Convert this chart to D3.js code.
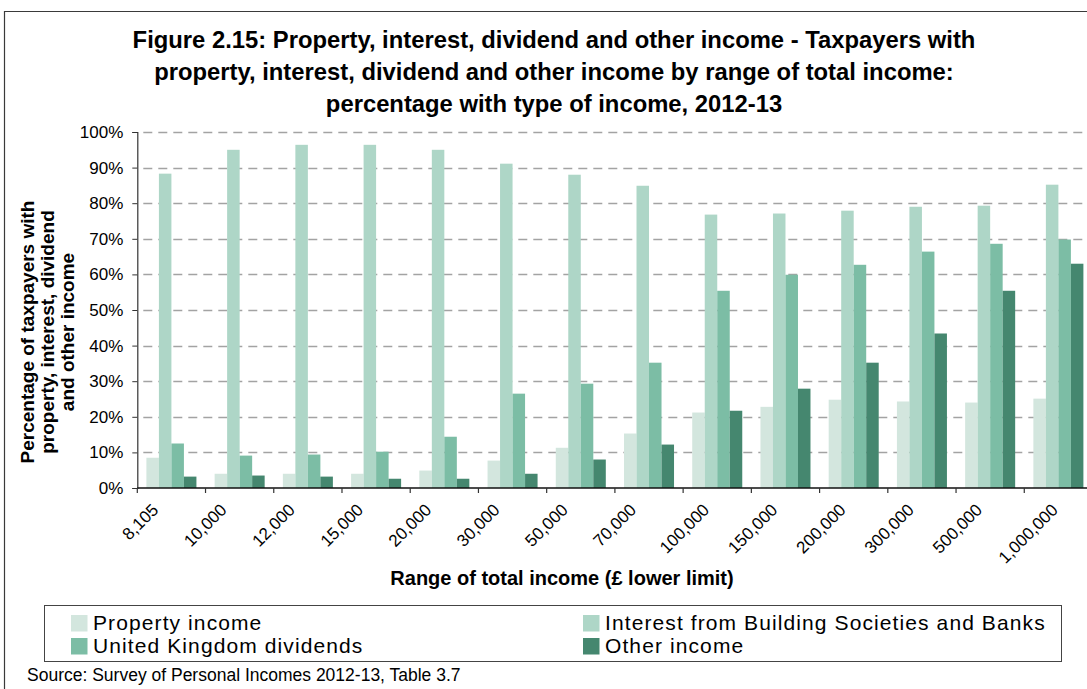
<!DOCTYPE html>
<html>
<head>
<meta charset="utf-8">
<script src="https://cdn.jsdelivr.net/npm/d3@7/dist/d3.min.js"></script>
<style>
  html, body { margin: 0; padding: 0; background: #fff; }
  svg { display: block; }
  text { font-family: "Liberation Sans", Arial, sans-serif; fill: #000; }
</style>
</head>
<body>
<svg id="chart" width="1087" height="689"></svg>
<script>
// Income bands (lower limit, £)
const categories = ["8,105", "10,000", "12,000", "15,000", "20,000", "30,000", "50,000",
  "70,000", "100,000", "150,000", "200,000", "300,000", "500,000", "1,000,000"];

// Share of taxpayers in each band with each type of income (%)
const propertyIncome = [8.5, 4.0, 4.0, 4.0, 4.9, 7.7, 11.3, 15.3, 21.2, 22.8, 24.8, 24.3, 24.0, 25.1];
const interestIncome = [88.3, 95.0, 96.4, 96.4, 95.0, 91.1, 88.0, 84.9, 76.8, 77.1, 77.9, 79.0, 79.3, 85.2];
const ukDividends    = [12.5, 9.1, 9.4, 10.2, 14.4, 26.5, 29.3, 35.2, 55.4, 59.9, 62.7, 66.4, 68.6, 69.8];
const otherIncome    = [3.2, 3.5, 3.2, 2.6, 2.6, 4.0, 8.0, 12.2, 21.7, 27.9, 35.2, 43.4, 55.4, 63.0];

const seriesNames = ["Property income", "Interest from Building Societies and Banks",
  "United Kingdom dividends", "Other income"];
const seriesValues = [propertyIncome, interestIncome, ukDividends, otherIncome];
const seriesColors = ["#d3e6de", "#aed6c7", "#7cbda5", "#45876f"];

const yTicks = [0, 10, 20, 30, 40, 50, 60, 70, 80, 90, 100];

const titleLines = [
  "Figure 2.15: Property, interest, dividend and other income - Taxpayers with",
  "property, interest, dividend and other income by range of total income:",
  "percentage with type of income, 2012-13"
];
const yTitleLines = ["Percentage of taxpayers with", "property, interest, dividend", "and other income"];
const xTitle = "Range of total income (£ lower limit)";
const sourceNote = "Source: Survey of Personal Incomes 2012-13, Table 3.7";

const svg = d3.select("#chart");

// Plot frame
const plot = { left: 137.3, right: 1092.5, top: 132, bottom: 488 };

const x = d3.scaleBand().domain(categories).range([plot.left, plot.right]).padding(0);
const xs = d3.scaleBand().domain(d3.range(seriesNames.length))
  .range([0, x.bandwidth()]).paddingInner(0).paddingOuter(0.728);
const y = d3.scaleLinear().domain([0, 100]).range([plot.bottom, plot.top]);

// Outer chart border (left and top edges)
svg.append("path")
  .attr("d", `M4.5,689 V11.5 H1087`)
  .attr("fill", "none").attr("stroke", "#3a3a3a").attr("stroke-width", 1.2);

// Title
svg.append("g").selectAll("text").data(titleLines).join("text")
  .attr("x", 554).attr("y", (d, i) => 48 + i * 32)
  .attr("text-anchor", "middle")
  .style("font-size", "23.8px").style("font-weight", "bold")
  .text(d => d);

// Dashed gridlines
svg.append("g").selectAll("line").data(yTicks.filter(t => t > 0)).join("line")
  .attr("x1", plot.left + 6).attr("x2", 1087)
  .attr("y1", d => Math.round(y(d)) + 0.5).attr("y2", d => Math.round(y(d)) + 0.5)
  .attr("stroke", "#a3a3a3").attr("stroke-width", 1.3)
  .attr("stroke-dasharray", "9,6");

// Bars
const groups = svg.append("g").selectAll("g").data(categories).join("g")
  .attr("transform", d => `translate(${x(d)},0)`);
groups.selectAll("rect")
  .data((d, ci) => seriesValues.map((vals, si) => ({ si, v: vals[ci] })))
  .join("rect")
  .attr("x", d => xs(d.si))
  .attr("width", xs.bandwidth())
  .attr("y", d => y(d.v))
  .attr("height", d => y(0) - y(d.v))
  .attr("fill", d => seriesColors[d.si]);

// Y axis
const yAxis = d3.axisLeft(y).tickValues(yTicks).tickSize(5).tickPadding(9)
  .tickFormat(d => d + "%");
const yg = svg.append("g").attr("transform", `translate(${plot.left},0)`).call(yAxis);
yg.select(".domain").attr("stroke", "#333").attr("stroke-width", 1.2);
yg.selectAll(".tick line").attr("stroke", "#333");
yg.selectAll(".tick text").style("font-size", "17px")
  .style("font-family", '"Liberation Sans", Arial, sans-serif').attr("fill", "#000");

// X axis line with ticks at category boundaries
svg.append("line")
  .attr("x1", plot.left).attr("x2", 1087)
  .attr("y1", plot.bottom).attr("y2", plot.bottom)
  .attr("stroke", "#111").attr("stroke-width", 1.5);
svg.append("g").selectAll("line").data(categories).join("line")
  .attr("x1", d => x(d)).attr("x2", d => x(d))
  .attr("y1", plot.bottom).attr("y2", plot.bottom + 5)
  .attr("stroke", "#333").attr("stroke-width", 1.2);

// Rotated category labels; longer labels sit a little further right
svg.append("g").selectAll("text").data(categories).join("text")
  .attr("text-anchor", "end")
  .style("font-size", "17px")
  .text(d => d)
  .each(function (d) {
    const w = this.getComputedTextLength() * Math.SQRT1_2;
    const shift = -12 + 0.75 * Math.max(0, w - 36.7);
    d3.select(this).attr("transform",
      `translate(${x(d) + x.bandwidth() / 2 + shift},${511}) rotate(-45)`);
  });

// Axis titles
svg.append("text")
  .attr("x", 562).attr("y", 585)
  .attr("text-anchor", "middle")
  .style("font-size", "20px").style("font-weight", "bold")
  .text(xTitle);

svg.append("text")
  .attr("transform", "translate(34,332) rotate(-90)")
  .attr("text-anchor", "middle")
  .style("font-size", "19px").style("font-weight", "bold")
  .selectAll("tspan").data(yTitleLines).join("tspan")
  .attr("x", 0).attr("dy", (d, i) => i === 0 ? 0 : 20)
  .text(d => d);

// Legend
const legend = svg.append("g");
legend.append("rect")
  .attr("x", 44.5).attr("y", 605.5).attr("width", 1017).attr("height", 56)
  .attr("fill", "#fff").attr("stroke", "#444").attr("stroke-width", 1);
const legendPos = [
  { x: 71, y: 615 }, { x: 583, y: 615 },
  { x: 71, y: 638 }, { x: 583, y: 638 }
];
const items = legend.selectAll("g.item").data(seriesNames).join("g")
  .attr("class", "item")
  .attr("transform", (d, i) => `translate(${legendPos[i].x},${legendPos[i].y})`);
items.append("rect")
  .attr("width", 16.5).attr("height", 16.5)
  .attr("fill", (d, i) => seriesColors[i]);
items.append("text")
  .attr("x", 22).attr("y", 15)
  .style("font-size", "21px").style("letter-spacing", "1.1px")
  .text(d => d);

// Source note
svg.append("text")
  .attr("x", 27).attr("y", 681)
  .style("font-size", "17.5px")
  .text(sourceNote);
</script>
</body>
</html>
